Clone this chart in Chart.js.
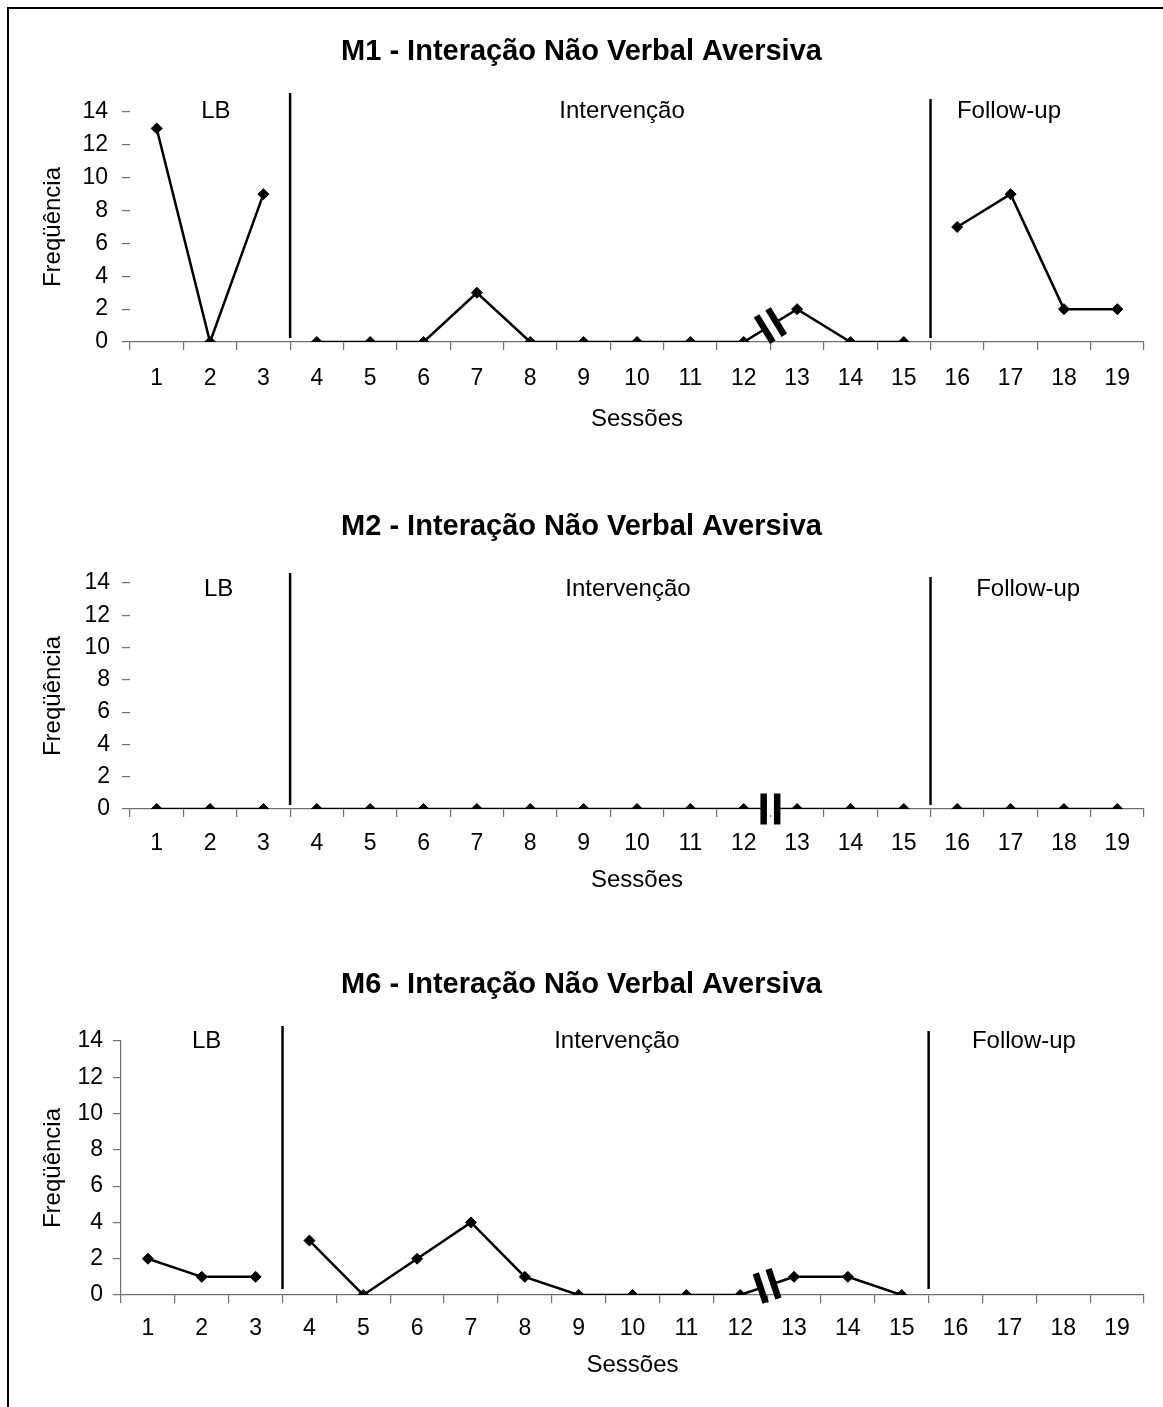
<!DOCTYPE html>
<html>
<head>
<meta charset="utf-8">
<script src="https://cdn.jsdelivr.net/npm/chart.js@4/dist/chart.umd.min.js"></script>
<style>
  body { margin: 0; background: #fff; }
  #page { position: relative; width: 1163px; height: 1407px; overflow: hidden; background: #fff; }
  #page canvas { position: absolute; left: 0; }
  .rule { position: absolute; background: #000; }
</style>
</head>
<body>
<div id="page">
  <div class="rule" style="left:7px; top:7px; width:1156px; height:2px;"></div>
  <div class="rule" style="left:7px; top:7px; width:2px; height:1400px;"></div>
  <canvas id="m1" width="1163" height="442" style="top:0px"></canvas>
  <canvas id="m2" width="1163" height="438" style="top:471px"></canvas>
  <canvas id="m6" width="1163" height="466" style="top:929px"></canvas>
</div>
<script>
// sessions on the x axis
const sessions = ["1", "2", "3", "4", "5", "6", "7", "8", "9", "10",
  "11", "12", "13", "14", "15", "16", "17", "18", "19"];

const m1Values = [13, 0, 9, 0, 0, 0, 3, 0, 0, 0, 0, 0, 2, 0, 0, 7, 9, 2, 2];
const m2Values = [0, 0, 0, 0, 0, 0, 0, 0, 0, 0, 0, 0, 0, 0, 0, 0, 0, 0, 0];
const m6Values = [2, 1, 1, 3, 0, 2, 4, 1, 0, 0, 0, 0, 1, 1, 0, null, null, null, null];

const titles = [
  "M1 - Interação Não Verbal Aversiva",
  "M2 - Interação Não Verbal Aversiva",
  "M6 - Interação Não Verbal Aversiva",
];

// phases: first and last session index of each
const phaseNames = ["LB", "Intervenção", "Follow-up"];
const phaseRanges = [[0, 2], [3, 14], [15, 18]];
const breakAfter = 11; // axis break between sessions 12 and 13

const yMin = 0;
const yMax = 14;
const yStep = 2;

const FONT = "'Liberation Sans', Arial, sans-serif";
const TICK = 23;
const TXT = 24;
const AXIS_GRAY = "#707070";
const SIDE = 19; // equal side padding keeps the title centred on the page

function phaseData(values, range) {
  return values.map((v, i) => (i >= range[0] && i <= range[1] ? v : null));
}

const phasePlugin = {
  id: "phases",
  afterDatasetsDraw(chart, args, opts) {
    const { ctx, chartArea, scales } = chart;
    const x = scales.x;
    const y = scales.y;
    ctx.save();

    // phase separators
    ctx.strokeStyle = "#000";
    ctx.lineWidth = 2.5;
    opts.lines.forEach((l) => {
      const px = x.getPixelForValue(l.at);
      ctx.beginPath();
      ctx.moveTo(px, chartArea.top + l.top);
      ctx.lineTo(px, chartArea.bottom - l.bottom);
      ctx.stroke();
    });

    // phase names
    ctx.fillStyle = "#000";
    ctx.font = `${TXT}px ${FONT}`;
    ctx.textAlign = "center";
    ctx.textBaseline = "middle";
    phaseNames.forEach((name, i) => {
      ctx.fillText(name, x.getPixelForValue(opts.labelAt[i]), chartArea.top + opts.labelDy);
    });

    // break mark on the line
    const v = opts.values;
    const x1 = x.getPixelForValue(breakAfter);
    const x2 = x.getPixelForValue(breakAfter + 1);
    const y1 = y.getPixelForValue(v[breakAfter]);
    const y2 = y.getPixelForValue(v[breakAfter + 1]);
    ctx.translate((x1 + x2) / 2, (y1 + y2) / 2);
    ctx.rotate(Math.atan2(y2 - y1, x2 - x1));
    ctx.fillStyle = "#fff";
    ctx.fillRect(-5, -6, 10, 12);
    ctx.fillStyle = "#000";
    ctx.fillRect(-10, -15.5, 6.5, 31);
    ctx.fillRect(3.5, -15.5, 6.5, 31);
    ctx.restore();
  },
};

function makeChart(id, title, values, cfg) {
  const datasets = phaseRanges.map((r) => ({
    data: phaseData(values, r),
    borderColor: "#000",
    backgroundColor: "#000",
    borderWidth: 2.5,
    pointStyle: "rectRot",
    pointRadius: 5.5,
    pointBorderWidth: 1,
    pointBackgroundColor: "#000",
    pointBorderColor: "#000",
    spanGaps: false,
    tension: 0,
  }));

  return new Chart(document.getElementById(id), {
    type: "line",
    data: { labels: sessions, datasets },
    plugins: [phasePlugin],
    options: {
      responsive: false,
      animation: false,
      devicePixelRatio: 1,
      layout: { padding: { left: SIDE, right: SIDE, top: 0, bottom: 0 } },
      plugins: {
        legend: { display: false },
        tooltip: { enabled: false },
        title: {
          display: true,
          text: title,
          color: "#000",
          font: { family: FONT, size: 29, weight: "bold" },
          padding: { top: cfg.titleTop, bottom: 77.2 - cfg.titleTop },
        },
        phases: cfg.phases,
      },
      scales: {
        x: {
          type: "category",
          offset: true,
          grid: { offset: true, drawOnChartArea: false, tickLength: 8, color: AXIS_GRAY, lineWidth: 1.2 },
          border: { color: AXIS_GRAY, width: 1.2 },
          ticks: {
            color: "#000",
            font: { family: FONT, size: TICK },
            padding: cfg.xPad,
            maxRotation: 0,
            autoSkip: false,
          },
          title: {
            display: true,
            text: "Sessões",
            color: "#000",
            font: { family: FONT, size: TXT },
            padding: { top: 0, bottom: cfg.sessPad },
          },
          afterFit(scale) {
            scale.height = 100;
          },
        },
        y: {
          min: yMin,
          max: yMax,
          grid: { drawOnChartArea: false, tickLength: 8, color: AXIS_GRAY, lineWidth: 1.2 },
          border: { display: cfg.yBorder, color: AXIS_GRAY, width: 1.2 },
          ticks: {
            stepSize: yStep,
            color: "#000",
            font: { family: FONT, size: TICK },
            padding: cfg.yPad,
          },
          title: {
            display: true,
            text: "Freqüência",
            color: "#000",
            font: { family: FONT, size: TXT },
            padding: { top: 39 - SIDE, bottom: 0 },
          },
          afterFit(scale) {
            scale.width = cfg.left - SIDE;
          },
        },
      },
    },
  });
}

makeChart("m1", titles[0], m1Values, {
  left: 130, titleTop: 34.6, xPad: 15, sessPad: 8, yPad: 14, yBorder: false,
  phases: {
    values: m1Values,
    lines: [{ at: 2.5, top: -19, bottom: 4 }, { at: 14.5, top: -13, bottom: 4 }],
    labelAt: [1.11, 8.72, 15.97],
    labelDy: -1,
  },
});

makeChart("m2", titles[1], m2Values, {
  left: 130, titleTop: 38.6, xPad: 13.3, sessPad: 14, yPad: 12, yBorder: false,
  phases: {
    values: m2Values,
    lines: [{ at: 2.5, top: -10, bottom: 4 }, { at: 14.5, top: -6, bottom: 4 }],
    labelAt: [1.16, 8.83, 16.33],
    labelDy: 6,
  },
});

makeChart("m6", titles[2], m6Values, {
  left: 121, titleTop: 38.6, xPad: 12.3, sessPad: 15, yPad: 10, yBorder: true,
  phases: {
    values: m6Values,
    lines: [{ at: 2.5, top: -15, bottom: 6 }, { at: 14.5, top: -10, bottom: 6 }],
    labelAt: [1.09, 8.71, 16.27],
    labelDy: 0,
  },
});
</script>
</body>
</html>
